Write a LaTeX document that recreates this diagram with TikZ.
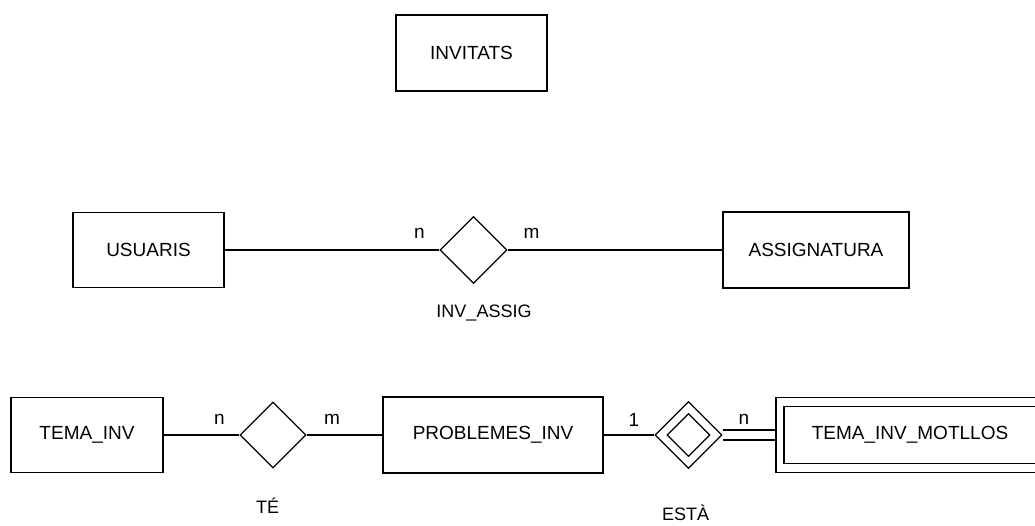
\documentclass[tikz,border=0pt]{standalone}
\usepackage{fontspec}
\setmainfont{Liberation Sans}
\usetikzlibrary{shapes.geometric}
\begin{document}
\begin{tikzpicture}[x=1pt,y=-1pt,
  every node/.style={font=\fontsize{19}{22}\selectfont},
  entity/.style={draw, line width=1.2pt, rectangle, inner sep=0pt},
  relation/.style={draw, line width=1.2pt, diamond, aspect=1, inner sep=0pt,
                   minimum width=#1, minimum height=#1},
  link/.style={line width=1.2pt},
  card/.style={inner sep=0pt},
  relname/.style={inner sep=0pt, font=\fontsize{18}{21}\selectfont}]
\clip (0,0) rectangle (1035,525);

% entities
\node[entity, minimum width=151, minimum height=76] (invitats) at (471.5,53) {INVITATS};
\node[entity, minimum width=151, minimum height=75] (usuaris) at (148.5,250) {USUARIS};
\node[entity, minimum width=186, minimum height=76] (assig) at (816,250) {ASSIGNATURA};
\node[entity, minimum width=152, minimum height=75] (temainv) at (87,435) {TEMA\_INV};
\node[entity, minimum width=220, minimum height=76] (probl) at (493,435) {PROBLEMES\_INV};
\node[entity, minimum width=268, minimum height=75] (motllos) at (910,435) {};
\node[entity, minimum width=252, minimum height=57] (motllosin) at (910,435) {TEMA\_INV\_MOTLLOS};

% relationships
\node[relation=67] (invassig) at (473.5,250) {};
\node[relation=66] (te) at (273,435) {};
\node[relation=67] (esta) at (688.5,435) {};
\node[relation=43] (estain) at (688.5,435) {};

% connectors
\draw[link] (usuaris.east) -- (invassig.west);
\draw[link] (invassig.east) -- (assig.west);
\draw[link] (temainv.east) -- (te.west);
\draw[link] (te.east) -- (probl.west);
\draw[link] (probl.east) -- (esta.west);
\draw[link] ([yshift=-5]esta.east) -- ([yshift=-5]motllos.west);
\draw[link] ([yshift=5]esta.east) -- ([yshift=5]motllos.west);

% cardinalities
\node[card] (c1) at (419.5,233) {n};
\node[card] (c2) at (531.5,233) {m};
\node[card] (c3) at (219.5,419.5) {n};
\node[card] (c4) at (332,419.5) {m};
\node[card] (c5) at (634,419.5) {1};
\node[card] (c6) at (744,419.5) {n};

% relationship names
\node[relname] (l1) at (484,313) {INV\_ASSIG};
\node[relname] (l2) at (267.5,506) {TÉ};
\node[relname] (l3) at (685.5,513) {ESTÀ};
\end{tikzpicture}
\end{document}
